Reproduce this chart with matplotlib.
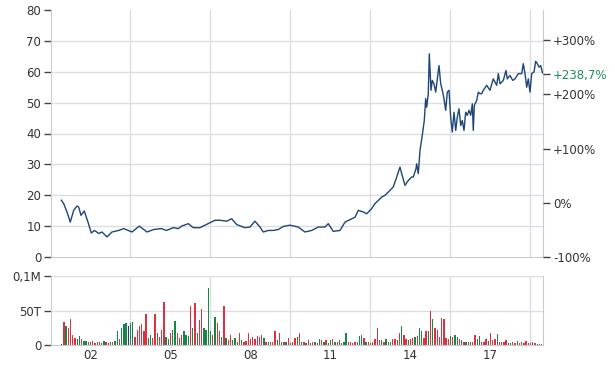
import matplotlib
matplotlib.use("Agg")
import matplotlib.pyplot as plt
import numpy as np

# --- Kursverlauf (Jahr als Dezimalzahl, Kurs) ---
price_years = [
    2000.905, 2000.995, 2001.119, 2001.243, 2001.370, 2001.494, 2001.558, 2001.644, 2001.768, 2001.906,
    2002.030, 2002.158, 2002.308, 2002.431, 2002.619, 2002.806, 2003.058, 2003.245, 2003.556, 2003.830,
    2004.119, 2004.370, 2004.655, 2004.858, 2005.105, 2005.293, 2005.420, 2005.668, 2005.855, 2006.106,
    2006.294, 2006.481, 2006.669, 2006.856, 2007.108, 2007.295, 2007.483, 2007.794, 2007.981, 2008.169,
    2008.356, 2008.480, 2008.668, 2008.855, 2009.043, 2009.230, 2009.481, 2009.793, 2010.044, 2010.295,
    2010.543, 2010.794, 2010.918, 2011.105, 2011.356, 2011.544, 2011.731, 2011.919, 2012.043, 2012.230,
    2012.358, 2012.545, 2012.669, 2012.793, 2012.920, 2013.044, 2013.168, 2013.355, 2013.483, 2013.606,
    2013.670, 2013.794, 2013.918, 2014.045, 2014.105, 2014.206, 2014.232, 2014.292, 2014.356, 2014.442,
    2014.517, 2014.570, 2014.607, 2014.667, 2014.705, 2014.769, 2014.817, 2014.881, 2014.945, 2015.005,
    2015.069, 2015.133, 2015.193, 2015.256, 2015.320, 2015.380, 2015.444, 2015.507, 2015.567, 2015.631,
    2015.695, 2015.755, 2015.819, 2015.883, 2015.943, 2016.006, 2016.070, 2016.130, 2016.194, 2016.258,
    2016.318, 2016.355, 2016.393, 2016.483, 2016.543, 2016.606, 2016.670, 2016.730, 2016.858, 2016.981,
    2017.105, 2017.233, 2017.293, 2017.356, 2017.480, 2017.581, 2017.630, 2017.731, 2017.833, 2017.919,
    2018.043, 2018.170, 2018.230, 2018.294, 2018.358, 2018.418, 2018.481, 2018.545, 2018.631, 2018.695,
    2018.755, 2018.819, 2018.883, 2018.943, 2018.980,
]
price_values = [
    18.4, 17.3, 14.6, 11.3, 15.1, 16.5, 16.2, 13.5, 14.9, 11.3,
    7.8, 8.6, 7.6, 8.1, 6.5, 8.1, 8.6, 9.2, 8.1, 10.0,
    8.1, 8.9, 9.2, 8.6, 9.5, 9.2, 10.0, 10.8, 9.5, 9.5,
    10.3, 11.1, 11.9, 11.9, 11.6, 12.4, 10.5, 9.5, 9.7, 11.6,
    9.7, 8.1, 8.6, 8.6, 8.9, 9.9, 10.3, 9.7, 8.1, 8.6,
    9.7, 9.7, 10.8, 8.3, 8.6, 11.3, 12.1, 12.9, 15.1, 14.6,
    14.0, 15.7, 17.3, 18.3, 19.4, 20.0, 21.0, 22.7, 25.9, 29.1,
    27.0, 23.2, 24.8, 25.9, 25.9, 28.6, 30.2, 27.0, 34.5, 39.4,
    44.2, 51.3, 48.5, 52.9, 65.8, 54.0, 57.2, 56.1, 53.4, 57.7,
    62.0, 56.1, 54.0, 51.3, 47.5, 53.4, 54.0, 45.3, 40.5, 46.9,
    41.0, 45.3, 48.0, 42.6, 44.2, 41.0, 46.9, 45.9, 47.5, 45.9,
    49.6, 41.0, 49.1, 50.7, 53.4, 52.9, 52.9, 54.0, 55.6, 54.0,
    57.7, 55.6, 59.4, 56.1, 57.2, 60.4, 57.7, 58.8, 57.2, 57.7,
    59.4, 59.4, 62.6, 59.4, 55.0, 57.7, 53.4, 59.4, 59.9, 63.4,
    62.6, 61.5, 62.0, 59.9, 59.4,
]
base_price = 17.55
last_change = "+238,7%"

# --- Umsatz (monatlich ab Dez. 2000, in Tausend Stueck) ---
vol_start = 2000.92
volume = [
    2, 33, 27, 24, 38, 14, 10, 8, 13, 9, 6, 6, 5, 4, 6, 3, 4, 5, 3, 6,
    4, 3, 5, 4, 6, 20, 8, 24, 30, 32, 27, 32, 33, 12, 22, 27, 30, 21, 45, 10,
    15, 10, 45, 17, 12, 22, 62, 12, 8, 17, 22, 35, 17, 10, 15, 20, 15, 13, 57, 25,
    61, 17, 36, 52, 25, 22, 83, 20, 15, 40, 32, 20, 12, 57, 10, 7, 15, 7, 10, 5,
    18, 7, 5, 6, 18, 8, 12, 9, 13, 11, 15, 10, 5, 5, 4, 5, 20, 7, 17, 4,
    5, 4, 10, 3, 5, 10, 12, 17, 4, 5, 3, 7, 3, 4, 5, 3, 9, 7, 4, 7,
    3, 7, 9, 4, 5, 7, 3, 4, 18, 5, 4, 3, 5, 4, 13, 15, 10, 4, 5, 3,
    5, 8, 24, 7, 7, 5, 9, 4, 5, 8, 8, 7, 17, 28, 15, 8, 7, 8, 10, 12,
    13, 24, 20, 10, 21, 20, 50, 37, 25, 22, 12, 39, 37, 10, 8, 13, 11, 15, 12, 8,
    7, 4, 5, 4, 5, 4, 15, 8, 13, 4, 5, 8, 6, 17, 7, 9, 16, 4, 5, 5,
    7, 3, 3, 4, 3, 6, 3, 5, 3, 6, 3, 3, 4, 3, 2, 2, 2,
]
vol_dir = (
    "brgrrrrggrggrgrrgrgg"
    "rrgrggrgggbggrrrrrrg"
    "grrgrrrggrggrgrgggrg"
    "rgrrggggrgrrgrgrrggr"
    "rgrrrrrrrrrgrgrrrgrg"
    "rgrgrrgrgrgrgrgrgrgr"
    "ggrgrgrggrrrrgggrgrg"
    "rrrrgrgggrrgrgrrgrrg"
    "rggrrgrgrrrrrrrgrggr"
    "grgrgrrggrrrgrrrgrrr"
    "rggrrgrrrrrrgrgrr"
)
vol_colors = {"r": "#e0303f", "g": "#17864a", "b": "#1f3b70"}

x_ticks = [2002, 2005, 2008, 2011, 2014, 2017]
x_labels = ["02", "05", "08", "11", "14", "17"]
x_grid = [2003.5, 2006.5, 2009.5, 2012.5, 2015.5, 2018.5]

grid_c = "#dcdee4"
spine_c = "#c8cbd2"
text_c = "#333333"
plt.rcParams["font.family"] = "DejaVu Sans"

fig = plt.figure(figsize=(6.15, 3.7), dpi=100)
left, width = 51 / 615, 492.3 / 615
ax = fig.add_axes([left, 1 - 257 / 370, width, 247 / 370])
axv = fig.add_axes([left, 1 - 345 / 370, width, 69 / 370])
xlim = (2000.52, 2018.98)

# Kurs-Chart
for v in range(10, 80, 10):
    ax.axhline(v, color=grid_c, lw=1, zorder=0)
for g in x_grid:
    ax.axvline(g, color=grid_c, lw=1, zorder=0)
ax.plot(price_years, price_values, color="#1d4677", lw=1.0, zorder=3)
ax.set_xlim(*xlim)
ax.set_ylim(0, 80)
ax.set_xticks([])
ax.set_yticks(range(0, 90, 10))
ax.tick_params(axis="y", length=5, width=1, color="#444444", labelsize=8.5,
               labelcolor=text_c, pad=2)
ax.spines["top"].set_visible(False)
for s in ["left", "right", "bottom"]:
    ax.spines[s].set_color(spine_c)

ax2 = ax.twinx()
ax2.set_ylim(0, 80)
pct = [-100, 0, 100, 200, 300]
r_ticks = [base_price * (1 + p / 100) for p in pct] + [price_values[-1]]
r_labels = ["-100%", "0%", "+100%", "+200%", "+300%", last_change]
ax2.set_yticks(r_ticks)
ax2.set_yticklabels(r_labels)
ax2.tick_params(axis="y", length=5, width=1, color="#444444", labelsize=8.5,
                labelcolor=text_c, pad=2)
ax2.get_yticklabels()[-1].set_color("#1c8c5a")
for s in ax2.spines.values():
    s.set_visible(False)

# Umsatz-Chart
for v in [50, 100]:
    axv.axhline(v, color=grid_c, lw=1, zorder=0)
for g in x_grid:
    axv.axvline(g, color=grid_c, lw=1, zorder=0)
vol_x = [vol_start + i / 12 for i in range(len(volume))]
axv.bar(vol_x, volume, width=0.05, color=[vol_colors[c] for c in vol_dir],
        linewidth=0, zorder=2)
axv.set_xlim(*xlim)
axv.set_ylim(0, 100)
axv.set_yticks([0, 50, 100])
axv.set_yticklabels(["0", "50T", "0,1M"])
axv.set_xticks(x_ticks)
axv.set_xticklabels(x_labels)
axv.tick_params(axis="y", length=5, width=1, color="#444444", labelsize=8.5,
                labelcolor=text_c, pad=2)
axv.tick_params(axis="x", length=0, labelsize=8.5, labelcolor=text_c, pad=3)
axv.spines["top"].set_visible(False)
for s in ["left", "right", "bottom"]:
    axv.spines[s].set_color(spine_c)

fig.savefig("out.png", dpi=100)
